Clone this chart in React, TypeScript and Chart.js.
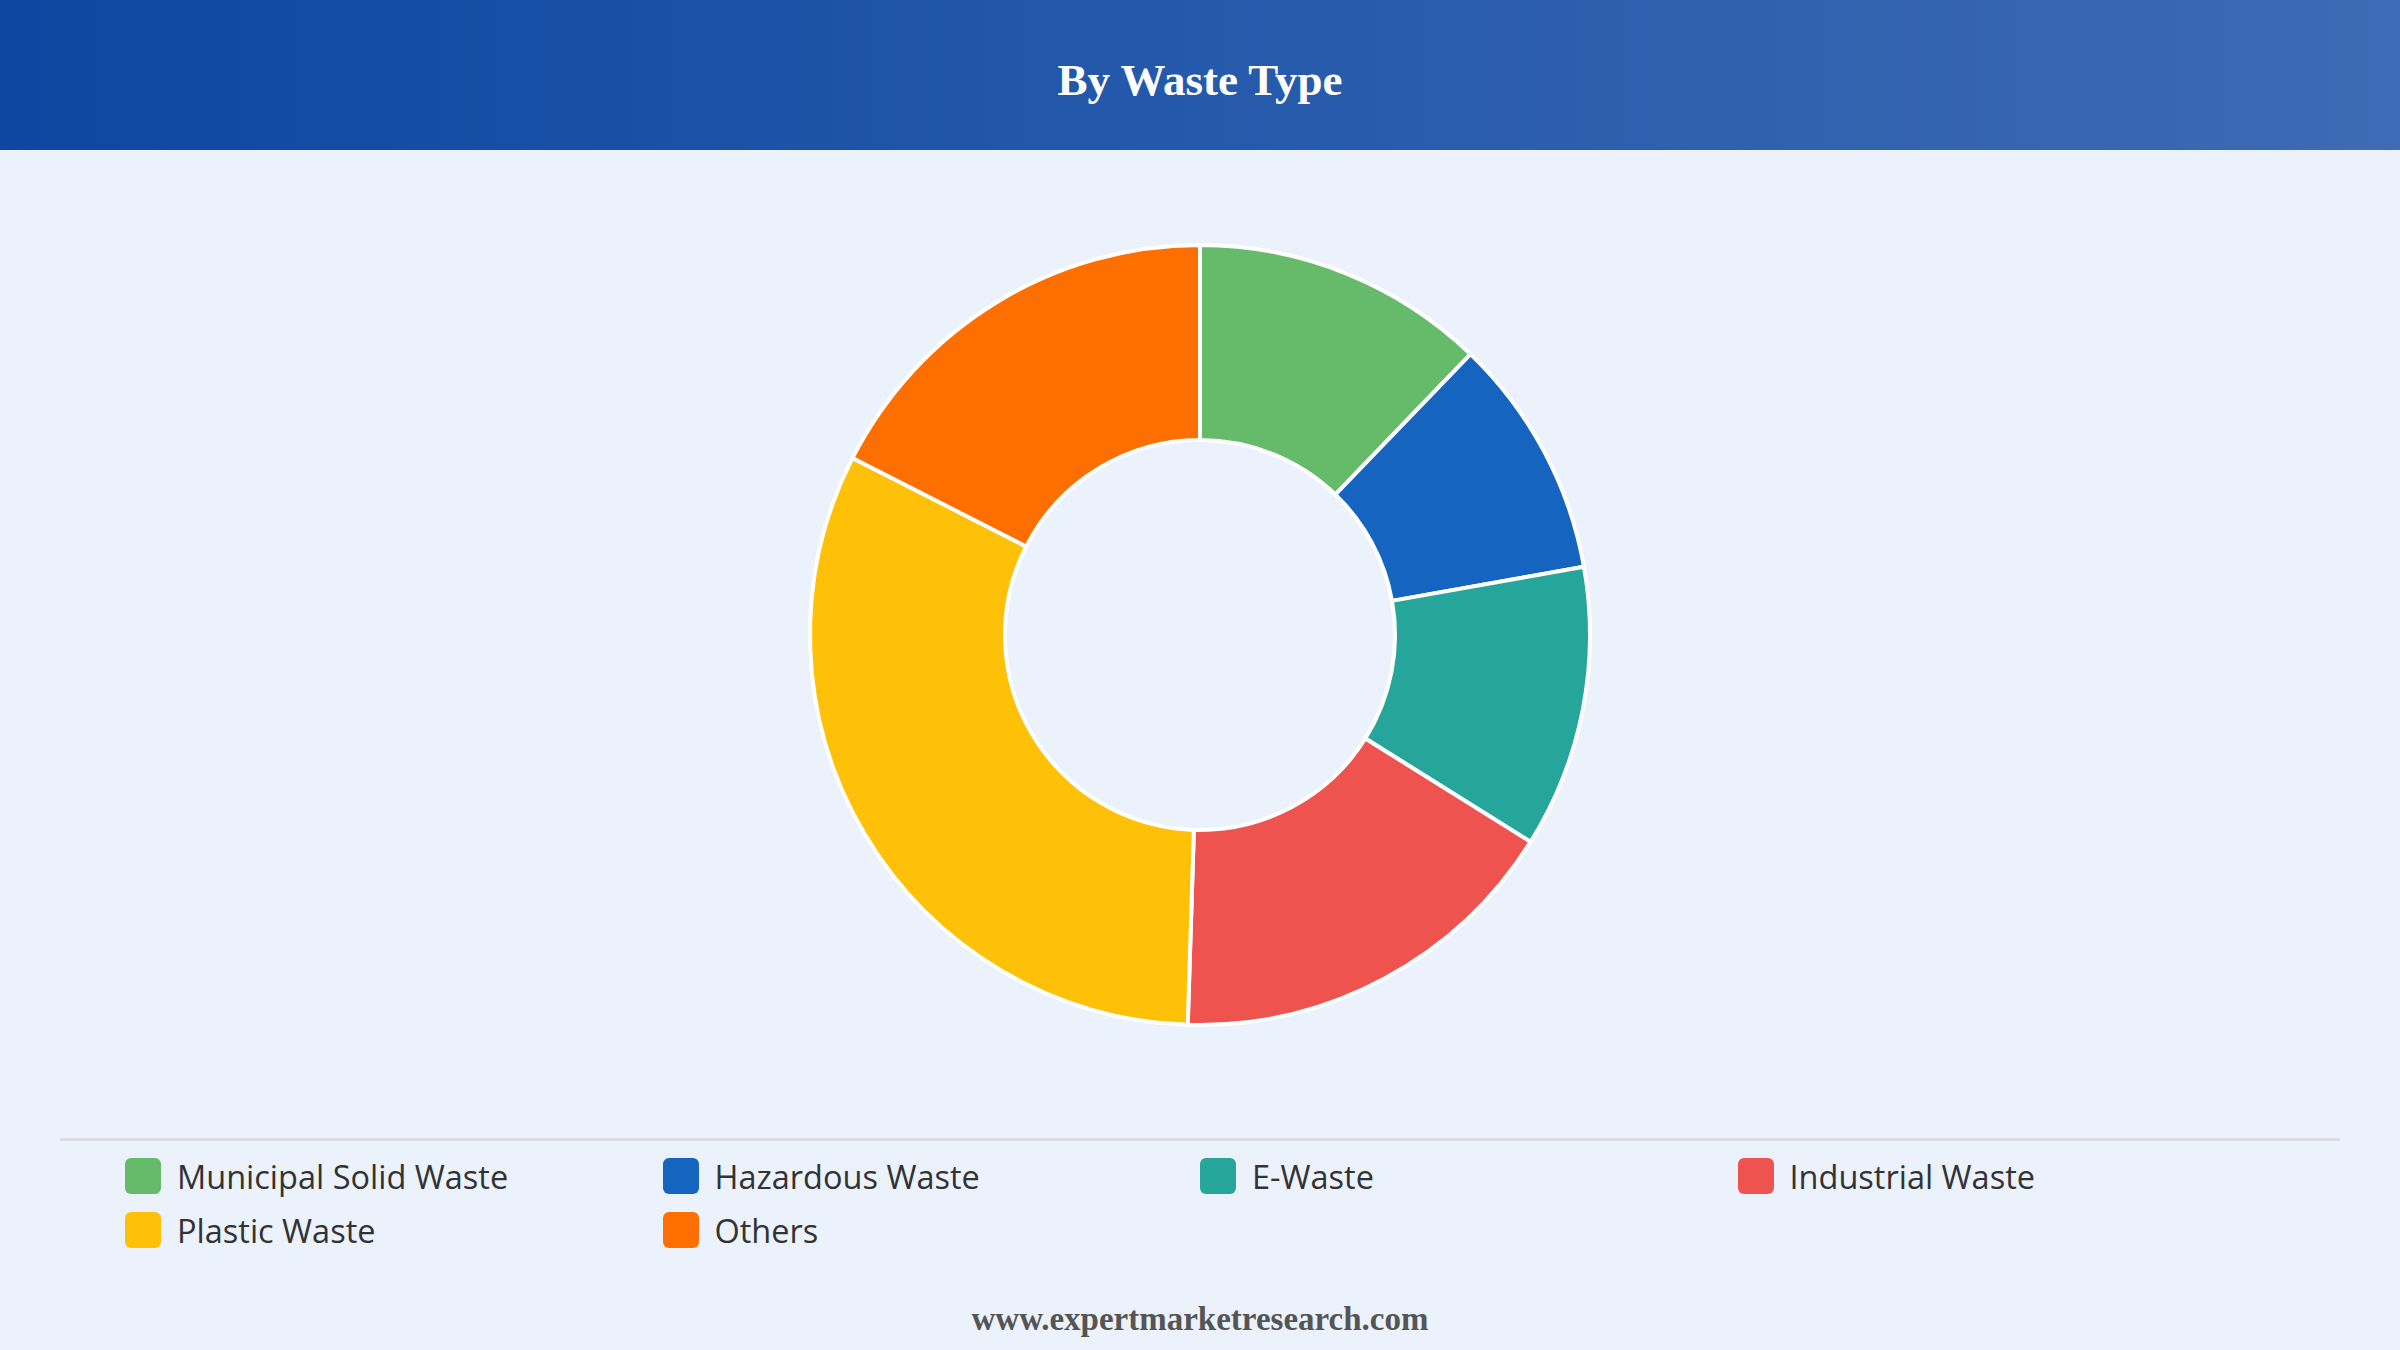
import React, { useEffect, useRef } from "react";
import { Chart, registerables } from "chart.js";

Chart.register(...registerables);

const TITLE = "By Waste Type";
const FOOTER = "www.expertmarketresearch.com";
const categories = ["Municipal Solid Waste", "Hazardous Waste", "E-Waste", "Industrial Waste", "Plastic Waste", "Others"];
const shares = [12.2, 10.0, 11.7, 16.6, 32.0, 17.5];
const colors = ["#66bb6a", "#1565c0", "#26a69a", "#ef5350", "#ffc107", "#ff6f00"];

export default function App() {
  const ref = useRef<HTMLCanvasElement | null>(null);
  useEffect(() => {
    document.body.style.margin = "0";
    const chart = new Chart(ref.current!, {
      type: "doughnut",
      data: {
        labels: categories,
        datasets: [
          {
            data: shares,
            backgroundColor: colors,
            borderColor: "#ffffff",
            borderWidth: 4,
          },
        ],
      },
      options: {
        animation: false,
        responsive: false,
        maintainAspectRatio: false,
        cutout: "50%",
        layout: { padding: 0 },
        plugins: { legend: { display: false }, tooltip: { enabled: false } },
      },
    });
    return () => chart.destroy();
  }, []);

  return (
    <div
      style={{
        position: "fixed",
        left: 0,
        top: 0,
        width: 2400,
        height: 1350,
        background: "#ebf2fc",
        overflow: "hidden",
      }}
    >
      <div
        style={{
          position: "absolute",
          left: 0,
          top: 0,
          width: 2400,
          height: 150,
          background: "linear-gradient(90deg, #0d47a1 0%, #3d6bb4 100%)",
          display: "flex",
          alignItems: "center",
          justifyContent: "center",
          color: "#ffffff",
          fontFamily: "'Liberation Serif', 'Times New Roman', serif",
          fontWeight: 700,
          fontSize: 45,
        }}
      >
        <span style={{ position: "relative", top: 5 }}>{TITLE}</span>
      </div>
      <canvas
        ref={ref}
        width={2400}
        height={784}
        style={{ position: "absolute", left: 0, top: 243, width: 2400, height: 784 }}
      />
      <div
        style={{
          position: "absolute",
          left: 60,
          top: 1138,
          width: 2280,
          height: 3,
          background: "#dadde2",
        }}
      />
      <div
        style={{
          position: "absolute",
          left: 125,
          top: 1158,
          width: 2150,
          display: "grid",
          gridTemplateColumns: "repeat(4, 537.5px)",
          rowGap: 18,
          fontFamily: "'Open Sans', 'Noto Sans', sans-serif",
          fontSize: 32.5,
          color: "#333333",
        }}
      >
        {categories.map((c, i) => (
          <div key={c} style={{ display: "flex", alignItems: "center", height: 36 }}>
            <div
              style={{
                width: 36,
                height: 36,
                borderRadius: 6,
                background: colors[i],
                marginRight: 16,
                flex: "none",
              }}
            />
            <span>{c}</span>
          </div>
        ))}
      </div>
      <div
        style={{
          position: "absolute",
          left: 0,
          top: 1301,
          width: 2400,
          textAlign: "center",
          fontFamily: "'Liberation Serif', 'Times New Roman', serif",
          fontWeight: 700,
          fontSize: 33,
          color: "#555555",
        }}
      >
        {FOOTER}
      </div>
    </div>
  );
}
